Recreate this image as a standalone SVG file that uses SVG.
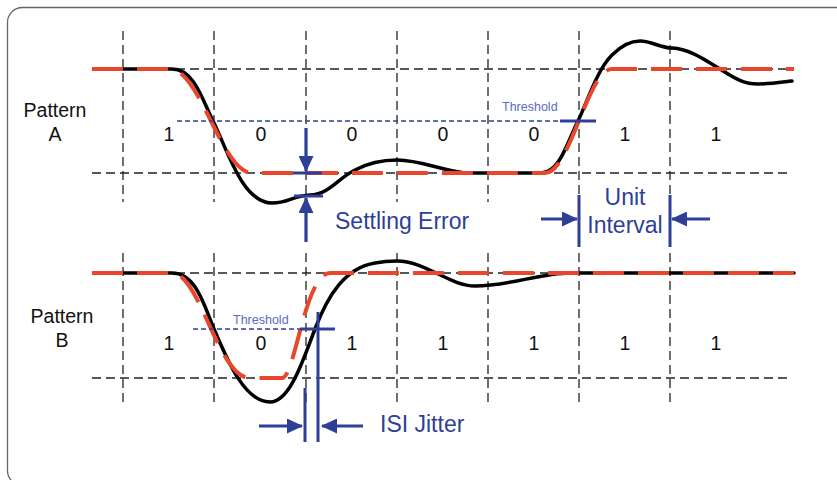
<svg xmlns="http://www.w3.org/2000/svg" width="837" height="480" viewBox="0 0 837 480">
<style>
.grid{stroke:#222;stroke-width:1.3;stroke-dasharray:9 5;fill:none}
.act{stroke:#000;stroke-width:3.5;fill:none;stroke-linecap:round;stroke-linejoin:round}
.ideal{stroke:#e8472b;stroke-width:4;fill:none;stroke-dasharray:31 14}
.blu{stroke:#2e3f98;stroke-width:3;fill:none}
.thr{stroke:#2e3f98;stroke-width:1.6;stroke-dasharray:5 3;fill:none}
.arr{stroke:#2e3f98;stroke-width:3.2;fill:none;marker-end:url(#ah)}
.lbl{font-family:"Liberation Sans",Arial,sans-serif;font-size:19.5px;fill:#111;text-anchor:middle}
.big{font-family:"Liberation Sans",Arial,sans-serif;font-size:23px;fill:#2e3f98}
.th{font-family:"Liberation Sans",Arial,sans-serif;font-size:12.5px;fill:#5a6bbf}
</style>
<defs>
<marker id="ah" markerUnits="userSpaceOnUse" markerWidth="16" markerHeight="15" refX="15" refY="7.5" orient="auto">
<path d="M0,0 L16,7.5 L0,15 z" fill="#2e3f98"/>
</marker>
</defs>
<rect x="7.5" y="7.5" width="850" height="478" rx="15" fill="#fff" stroke="#666" stroke-width="1.3"/>

<g id="grid">
<path class="grid" d="M123,31V202 M214,31V202 M306,31V202 M397,31V202 M488,31V202 M579,31V202 M670,31V202"/>
<path class="grid" d="M92,69H792 M92,173H792"/>
<path class="grid" d="M123,253V407 M214,253V407 M306,253V407 M397,253V407 M488,253V407 M579,253V407 M670,253V407"/>
<path class="grid" d="M92,273H792 M92,378H792"/>
</g>

<g id="pattern-a">
<path class="act" d="M123,69 L172,69 C195,69 203,102 214,123 C228,152 243,203 272,203 C288,203 292,196 310,195 C330,194 338,178 355,170 C370,162 385,160 397,160 C420,160 440,170 465,173 L541,173 C560,173 568,140 578,121 C588,100 597,70 612,55 C622,45 630,41 640,41 C652,41 660,48 672,48 C690,49 705,60 720,69 C737,80 745,84 758,84 C772,84 783,82 792,81"/>
<path class="ideal" d="M92,69 L170,69 C200,69 222,173 252,173 L545,173 C570,173 588,69 612,69 L794,69"/>
<path class="thr" d="M177,121H560"/>
<path class="blu" d="M560,121H596"/>
<text class="th" x="502" y="111">Threshold</text>
<text class="lbl" x="55" y="117">Pattern</text>
<text class="lbl" x="55" y="141">A</text>
<text class="lbl" x="169" y="141">1</text>
<text class="lbl" x="261" y="141">0</text>
<text class="lbl" x="352" y="141">0</text>
<text class="lbl" x="443" y="141">0</text>
<text class="lbl" x="534" y="141">0</text>
<text class="lbl" x="625" y="141">1</text>
<text class="lbl" x="716" y="141">1</text>
</g>

<g id="pattern-b">
<path class="act" d="M123,273 L172,273 C196,273 204,305 214,329 C228,362 245,402 270,402 C290,402 303,360 315,329 C328,295 345,268 375,263 C385,261 390,261 397,261 C425,261 450,286 475,286 C510,286 540,273 570,273 L794,273"/>
<path class="ideal" d="M92,273 L172,273 C200,273 218,378 250,378 C262,378 272,378 282,378 C295,378 305,273 330,273 L794,273"/>
<path class="thr" d="M193,329H300"/>
<path class="blu" d="M300,329H335"/>
<text class="th" x="233" y="324">Threshold</text>
<text class="lbl" x="62" y="323">Pattern</text>
<text class="lbl" x="62" y="347">B</text>
<text class="lbl" x="169" y="350">1</text>
<text class="lbl" x="261" y="350">0</text>
<text class="lbl" x="352" y="350">1</text>
<text class="lbl" x="443" y="350">1</text>
<text class="lbl" x="534" y="350">1</text>
<text class="lbl" x="625" y="350">1</text>
<text class="lbl" x="716" y="350">1</text>
</g>

<g id="settling-error">
<path class="blu" d="M293,173H322 M294,196H323"/>
<path class="arr" d="M306,128V171"/>
<path class="arr" d="M306,242V198"/>
<text class="big" x="335" y="229">Settling Error</text>
</g>

<g id="unit-interval">
<path class="blu" d="M579,195V247 M670,195V247"/>
<path class="arr" d="M541,219H577"/>
<path class="arr" d="M710,219H672"/>
<text class="big" x="625" y="205" text-anchor="middle" font-size="22.5">Unit</text>
<text class="big" x="625" y="233" text-anchor="middle" font-size="22.5">Interval</text>
</g>

<g id="isi-jitter">
<path class="blu" d="M305,388V442 M318,312V442"/>
<path class="arr" d="M259,426H302"/>
<path class="arr" d="M363,426H322"/>
<text class="big" x="380" y="432" font-size="22.5">ISI Jitter</text>
</g>
</svg>
